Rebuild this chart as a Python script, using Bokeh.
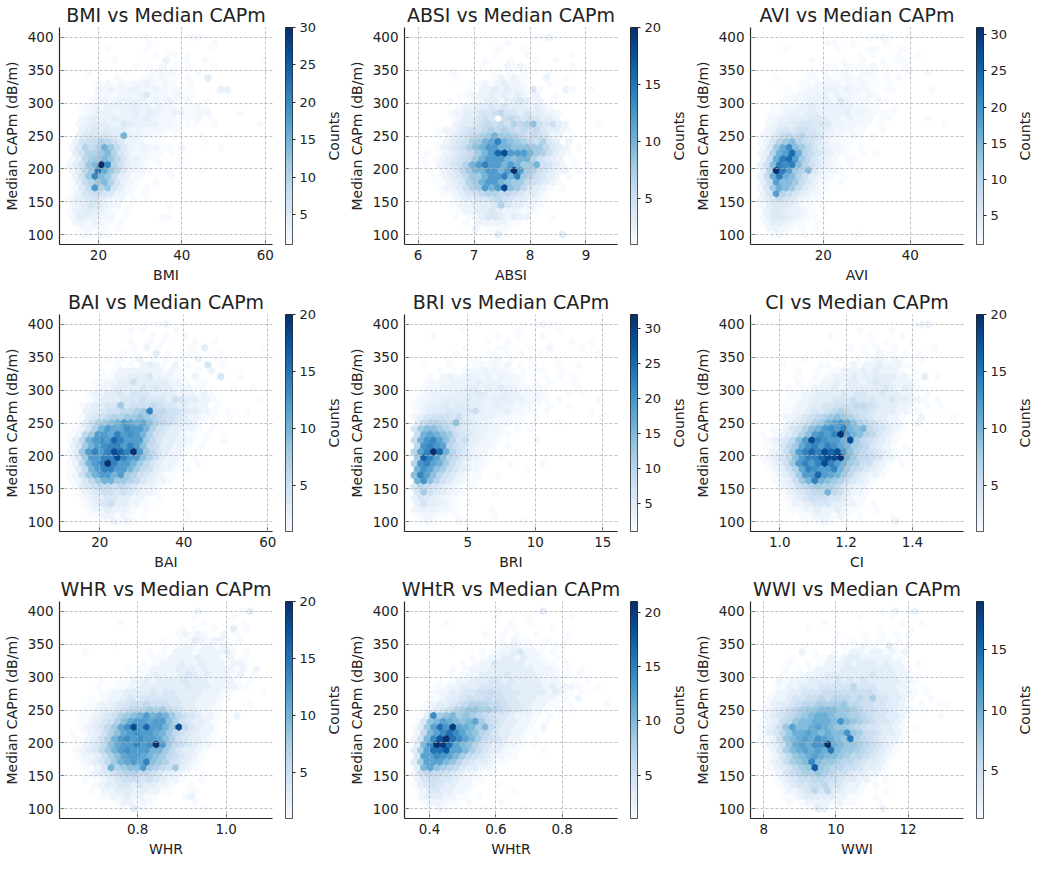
import numpy as np
from bokeh.plotting import figure
from bokeh.models import (ColumnDataSource, LinearColorMapper, Range1d, FixedTicker,
                          NumeralTickFormatter)
from bokeh.transform import transform
from bokeh.layouts import row, column
from bokeh.embed import file_html
from bokeh.resources import INLINE

# ------------------------------------------------------------------ data
Y_MIN, Y_MAX = 100.0, 400.0          # Median CAPm extent (dB/m)
Y_TICKS = [100, 150, 200, 250, 300, 350, 400]
NX, NY = 30, 17                      # hexbin gridsize

# x extent of each index, x tick values, colorbar ticks
BMI_X, BMI_TICKS, BMI_CB = (13.0, 59.4), [20, 40, 60], [5, 10, 15, 20, 25, 30]
ABSI_X, ABSI_TICKS, ABSI_CB = (5.93, 9.39), [6, 7, 8, 9], [5, 10, 15, 20]
AVI_X, AVI_TICKS, AVI_CB = (5.5, 50.0), [20, 40], [5, 10, 15, 20, 25, 30]
BAI_X, BAI_TICKS, BAI_CB = (12.7, 58.8), [20, 40, 60], [5, 10, 15, 20]
BRI_X, BRI_TICKS, BRI_CB = (1.02, 15.37), [5, 10, 15], [5, 10, 15, 20, 25, 30]
CI_X, CI_TICKS, CI_CB = (0.941, 1.525), [1.0, 1.2, 1.4], [5, 10, 15, 20]
WHR_X, WHR_TICKS, WHR_CB = (0.6454, 1.0826), [0.8, 1.0], [5, 10, 15, 20]
WHTR_X, WHTR_TICKS, WHTR_CB = (0.3537, 0.9375), [0.4, 0.6, 0.8], [5, 10, 15, 20]
WWI_X, WWI_TICKS, WWI_CB = (7.90, 13.27), [8, 10, 12], [5, 10, 15]

# hex counts, one string per hex row from y=400 downwards ("offset:counts",
# '.' = empty, 1-9, a=10 ... w=32)
BMI_ROWS = [
    "12:1......11", "12:1.........1", "6:1.....1.........1", "13:1.11.1",
    "7:1.......3..1..1........1", "10:1.1.2.1.1...1", "3:1.....1...1212...1",
    "7:1...121211.1..4", "4:1121212232121..1", "4:2232233223212.1....33",
    "4:1221222352221211", "3:1232333332323212..1", "2:12323333433232211121",
    "2:12333233434322331122....1", "2:2343343333432221112.1",
    "1:2344433543333221.11..1......1", "2:3454544323222111",
    "1:3565654f332211.1...1...1", "1:3678a975332111......1",
    "0:25a8afc853232211.2.....1", "1:47aacea6422211.1", "0:249bcec9633211...1",
    "0:247ceuka74321.1..1", "0:249cmgc953221..1....1", "1:37ckec84311....1",
    "0:148acea6321..1", "1:258iac6421.1", "0:1367865321.1", "0:134564322.1.1",
    "0:23465322.1.....1", "0:13454321.1", "0:2443322.1.....11", "1:232321.1",
    "1:12211.1", "2:12121",
]
ABSI_ROWS = [
    "19:112", "9:1....1", "13:1...1", "12:1....1......1", "11:1...1...1..1",
    "10:1...2121......1", "6:1.....11.1.1...1", "6:1.....121211..2..1",
    "9:112123221...1", "8:1.2232322141...21..1", "7:1122232323212..1",
    "5:1..122332334322.1", "7:122334343332321", "5:122334456443433221",
    "6:1233454.565454332", "6:233456565767954532....1", "4:122345567676565643321",
    "3:1.2345678a8876565422.1", "4:1234578abea98765743.2..1",
    "3:1234579accaa999886432.1", "2:1.1234568acgiccca875321",
    "1:1.1234568accca9aa75432.1", "2:1.23457aceccaca88a5432.1.1",
    "2:1.23468aaccackc8754322.1.1", "3:11234688acceae875432.1",
    "3:1123478acca988654321", "4:1223578caci9864321.1", "4:11234567766543321",
    "6:123344565433221", "5:112233347433221", "7:1223343222111",
    "6:1.1234432322...1", "8:1.2222211", "9:2.1111", "13:31........3",
]
AVI_ROWS = [
    "17:1121..1", "10:11..1....1", "4:1.......1....11...1", "15:1.1...1..1",
    "8:1....1..1..1.111", "10:11.21112.1..1", "8:1.1.121.121.1..1..1",
    "2:1....11.21121211.1.1", "6:1112222121211.1", "4:1.122233232221.11.....1",
    "4:112223323222121", "3:11223333253222121", "2:11223343333332211..1",
    "1:11233344333342322111", "1:12334445543323222.11.....1",
    "1:2344566565332221.1.........1", "1:2356577654322211..1",
    "0:235898a775322121.1", "0:136acea87532211", "0:25cgkec9643221.1",
    "0:24agioga864321..1.1", "0:38gmoic96432.11", "0:37emkmea75321.1",
    "0:4avmicae53221..1", "0:38gmgea74321.1", "0:48ieec85321.1", "0:26cgec85321",
    "0:36ia864321", "0:2468653211", "0:24554321.1", "1:35543321.1", "0:245543211",
    "1:2443211.1", "1:2321.1.1", "2:121..1..1....1",
]
BAI_ROWS = [
    "12:1.12", "9:1.1....1", "13:1.1..1", "9:1..1.1....1..1",
    "10:1.2.1....1.3........1", "8:1.1..3.1.111...1", "6:1.1.12.1.1.1..2..11",
    "7:1.1.2321.2.1..4.1", "5:1.12222222121..1.2", "5:1122333422211.2...4..1",
    "4:112233533333221.11", "4:12233334343322211....1..1", "3:12233434443333222121",
    "3:12333444544435433221......1", "2:12334484555654433222.1",
    "2:2334556678e6655433221.1..1", "2:134567788987655432211..1",
    "1:135789acbab976543321.1", "1:1247acbbdcca75433221.1",
    "0:1268ccbecdca75433211.1", "0:136acdcgeccc86433221.1..1",
    "0:248acdeecec96533221.1", "0:138ceceigekc8643221.1", "0:248cceeiecc9753221.1",
    "0:126acekecca8643221..1", "0:136aceecca8653221.1", "0:1258accac87543211",
    "0:12468aa887643221", "1:13456656543221", "1:1234554543221..1",
    "2:12334433221.1", "2:12345332211", "3:12232221.1.....1", "3:1122121.1......1",
    "6:12121",
]
BRI_ROWS = [
    "10:1......1.121", "7:1........1.....1", "3:1.........1..1...1",
    "11:1..1.........1..1", "8:1....11...1..2....1", "6:1....11.1.1..1........1",
    "5:1...11.12.1..1...1", "1:1...1...121212.1.1...1..1", "4:1.1.22232221.1.11..1",
    "2:1.2322332323221.1.1.1.1", "2:1222333343332221.1.1...1",
    "1:12233334434353322121....1", "1:12333344454334332221...1.1",
    "0:123344445443444332221.1.....1", "0:12344545544334332221.1..1",
    "0:1345565568433342211.1......1", "0:246777685433322211.1.........1",
    "0:48aa98e6543322211.1...1", "0:6ceeca865433221.1.1", "0:8gigec865432211",
    "0:8gkmiea6843221.....2", "0:akmkia8643221.1", "0:aimwpga753221...1",
    "0:cqmiea854321.1", "0:akmigc853221...1....1", "0:gkiec864321......1",
    "0:emiea753211..1", "0:gkea753211", "0:6a865321.1", "0:6c754321....1",
    "0:3654321", "0:3644321.1", "0:2333221.....1", "0:12211.1.....1",
    "1:121...21........1",
]
CI_ROWS = [
    "24:122", "15:1....1", "11:1.....1....1", "17:1.1...1", "14:1.1.1..1.....1",
    "10:1.....1.211.1.1", "7:1....1..1.122121..1", "3:1.....11..12122322211",
    "6:1..1.112223232221.1", "5:1..1.12223233333221.3.1", "6:1.11223233234332221",
    "4:1.11222323333334323211", "5:11223333434433433221.1",
    "4:1122333444544433433221.1", "4:112233445556654333221.1.1",
    "3:1122344567655543332211", "3:12234567898765433221..2....1",
    "3:1234578abcb976543221.2", "2:1124579acdcea9a654321", "0:1.123579cdcekca9764321",
    "1:123469ciedccai8654321", "0:112468bdecedba8764321.1", "1:12358cegeigic97654321.1",
    "0:123469ceegiika86654221", "1:12358ceceieca8755321.1", "1:12357bedccea8654321",
    "2:12358ccgcba8643221", "2:12358aea98754321", "3:123567877643221",
    "3:1234566a653221", "4:1234555443211", "4:122344433221.1", "5:11223223211..1",
    "6:11222121.1....1", "7:1.121.1.......2",
]
WHR_ROWS = [
    "20:2......13", "19:1.....1", "8:1............1.....1", "17:1.1..1..3.1",
    "17:12121..2.1", "14:1..11321221.1", "7:1.......1.122122121",
    "2:1.........1.1.2221222231.1", "13:1112222322212.1", "11:1.122232232221221",
    "9:1.11222233323222212.2", "9:111232223432322212.1", "5:1..1122323333433322221.1",
    "4:1..112233333334333222211", "5:112233334344333322211....1",
    "3:1.12234344444433322211", "3:112234455655544332221....1",
    "2:1123345667878654332211", "2:112345789acaba86543221..2",
    "1:11234579bccbcc97543321.1", "2:123468bdicgcca8i643221",
    "0:1.123579bcdccba86543221", "1:112357acdcdccb97543321.1",
    "1:123469bccecdkc86543221", "1:123468acdcccaa8643321", "1:1223579bccba98654321",
    "2:123468abcbe98754321", "2:1124a7899c87658321", "3:1234567766543321..1",
    "2:1.12345554543221..1", "4:1233443433221..1", "3:1.22333232211..11",
    "5:112232211....12", "7:122121......1", "8:1.311........1",
]
WHTR_ROWS = [
    "13:1......3", "12:1....1......1", "5:1.........1..1", "14:11.....1",
    "11:1..1.1..1....1", "13:1.211..1..1", "6:1......122211.1.11", "10:1.12234221.1",
    "9:1.1223323221.1", "7:1.1224333322211.1", "6:1.122233333332221.1.1",
    "5:1.12233334333322211.1", "4:1.122333443433332221.1.1",
    "3:11223334444433333232221..1", "3:1223344556544433332321.1",
    "2:1123345556554433322211.2", "2:123345677766544332211.1.....1",
    "1:12345789988765443221.1.1", "1:13e89a8987654432221.1", "0:149acba9ac865433221.1",
    "0:138cgdkcba8a6433221.2", "0:26acegeca9764332211", "0:25aeilgeca86543221.1",
    "0:3aelkgca975433221.1", "0:38cggicca86433211...1", "0:4ccedca865432211",
    "0:38ccca975433211", "0:3ac9876433221", "0:25666543221.1", "0:24554432211",
    "0:1345433221...1", "0:124433221......1", "1:23332211.1", "1:122211.1....1",
    "2:1.21.....1.....1",
]
WWI_ROWS = [
    "19:1.2.12", "15:1....1", "10:1...........1..1", "7:1..........1....1",
    "12:1...1..1.1.1", "11:1..1.1.11.1", "7:1.....1.1211.31.1", "6:2.1..1.1221221212",
    "5:1...11212332222211", "4:1..1.12223233323221.1", "4:1.1.1222233333333221",
    "3:1.11222333333343332211", "3:2122233334343433333221",
    "2:1122333444446444333221.1", "2:12233444555555554333221.1",
    "1:12234455656665657443321..1", "1:12334566777786655443321.1..11",
    "0:123456788999887655443221.1", "1:23456789aa9887765443321....1",
    "0:12356899aaa9c9876544321", "0:12358b99aba988765443321.1",
    "0:13468aaba9a99c875543321", "0:112589abacba98e76543221",
    "0:12358abaccja9887654321", "1:12479ababae9887654321", "1:124689aba99876654321",
    "1:1235789d988766543321", "1:1234678g87665543321", "2:124567787655433221",
    "2:1234556655433221.1", "3:12344556443221.1", "3:1223464633221...1",
    "4:112333332211..1", "4:1.122221211...1", "8:132.1......2",
]

PANELS = [
    ("BMI", BMI_X, BMI_TICKS, BMI_CB, BMI_ROWS, None),
    ("ABSI", ABSI_X, ABSI_TICKS, ABSI_CB, ABSI_ROWS, None),
    ("AVI", AVI_X, AVI_TICKS, AVI_CB, AVI_ROWS, None),
    ("BAI", BAI_X, BAI_TICKS, BAI_CB, BAI_ROWS, None),
    ("BRI", BRI_X, BRI_TICKS, BRI_CB, BRI_ROWS, None),
    ("CI", CI_X, CI_TICKS, CI_CB, CI_ROWS, "0.0"),
    ("WHR", WHR_X, WHR_TICKS, WHR_CB, WHR_ROWS, "0.0"),
    ("WHtR", WHTR_X, WHTR_TICKS, WHTR_CB, WHTR_ROWS, "0.0"),
    ("WWI", WWI_X, WWI_TICKS, WWI_CB, WWI_ROWS, None),
]

# ------------------------------------------------------------------ style
FONT = "DejaVu Sans"
TXT = "#222222"
SPINE = "#262626"
BLUES = ["#f7fbff", "#deebf7", "#c6dbef", "#9ecae1", "#6baed6",
         "#4292c6", "#2171b5", "#08519c", "#08306b"]


def ramp(anchors, n=256):
    rgb = np.array([[int(c[i:i + 2], 16) for i in (1, 3, 5)] for c in anchors], float)
    pos = np.linspace(0, 1, len(anchors))
    out = []
    for t in np.linspace(0, 1, n):
        out.append("#%02x%02x%02x" % tuple(int(round(np.interp(t, pos, rgb[:, j]))) for j in range(3)))
    return out


PALETTE = ramp(BLUES)
ALPH = "0123456789abcdefghijklmnopqrstuvwxyz"


def hex_cells(rows, xr):
    x0, x1 = xr
    sx = (x1 - x0) / NX
    sy = (Y_MAX - Y_MIN) / NY
    dx = np.array([0.5, 0.5, 0.0, -0.5, -0.5, 0.0]) * sx
    dy = np.array([-0.5, 0.5, 1.0, 0.5, -0.5, -1.0]) * sy / 3.0
    xs, ys, cs = [], [], []
    for k, r in enumerate(rows):
        off, s = r.split(":")
        off = int(off)
        cy = Y_MAX - k * sy / 2.0
        shift = 0.5 * (k % 2)
        for j, ch in enumerate(s):
            if ch == ".":
                continue
            cx = x0 + (off + j + shift) * sx
            xs.append(list(cx + dx))
            ys.append(list(cy + dy))
            cs.append(ALPH.index(ch))
    return xs, ys, cs


MAIN_W, H = 276, 287
TOP, BOTTOM, LEFT, RIGHT = 26, 43, 56, 4
CB_W = 43


def style_axis(ax, label_size="13.5px"):
    ax.axis_line_color = SPINE
    ax.axis_line_width = 1.2
    ax.major_tick_line_color = SPINE
    ax.major_tick_line_width = 1.0
    ax.minor_tick_line_color = None
    ax.major_label_text_font = FONT
    ax.major_label_text_font_size = label_size
    ax.major_label_text_color = TXT
    ax.axis_label_text_font = FONT
    ax.axis_label_text_font_size = "14px"
    ax.axis_label_text_font_style = "normal"
    ax.axis_label_text_color = TXT


def make_panel(spec, lab_w):
    name, xr, xticks, cbticks, rows, fmt = spec
    xs, ys, cs = hex_cells(rows, xr)
    hi = max(cs)
    mapper = LinearColorMapper(palette=PALETTE, low=1, high=hi)
    span = xr[1] - xr[0]
    p = figure(width=MAIN_W, height=H,
               x_range=Range1d(xr[0] - 0.05 * span, xr[1] + 0.05 * span),
               y_range=Range1d(Y_MIN - 15, Y_MAX + 15),
               min_border_left=LEFT, min_border_right=RIGHT,
               min_border_top=TOP, min_border_bottom=BOTTOM,
               toolbar_location=None, output_backend="svg")
    src = ColumnDataSource(dict(xs=xs, ys=ys, c=cs))
    p.patches("xs", "ys", source=src, fill_color=transform("c", mapper),
              line_color=transform("c", mapper), line_width=0.6)
    p.outline_line_color = None
    p.title.text = f"{name} vs Median CAPm"
    p.title.align = "center"
    p.title.text_font = FONT
    p.title.text_font_size = "19px"
    p.title.text_font_style = "normal"
    p.title.text_color = TXT
    p.title.standoff = 3
    p.xaxis.ticker = FixedTicker(ticks=xticks)
    p.yaxis.ticker = FixedTicker(ticks=Y_TICKS)
    if fmt:
        p.xaxis.formatter = NumeralTickFormatter(format=fmt)
    p.xaxis.axis_label = name
    p.yaxis.axis_label = "Median CAPm (dB/m)"
    for ax in (p.xaxis[0], p.yaxis[0]):
        style_axis(ax)
        ax.major_tick_in = 4
        ax.major_tick_out = 0
    p.xaxis.major_label_standoff = 5
    p.xaxis.axis_label_standoff = 4
    p.yaxis.major_label_standoff = 6
    p.yaxis.axis_label_standoff = 5
    p.xgrid.ticker = FixedTicker(ticks=xticks)
    p.ygrid.ticker = FixedTicker(ticks=Y_TICKS)
    for g in (p.xgrid[0], p.ygrid[0]):
        g.grid_line_color = "#b0b0b0"
        g.grid_line_dash = "3 2"
        g.grid_line_width = 0.8
        g.level = "annotation"

    # colorbar as its own small figure
    cb = figure(width=CB_W, height=H, x_range=Range1d(0, 1), y_range=Range1d(1, hi),
                x_axis_location=None, y_axis_location="right",
                min_border_left=9, min_border_right=CB_W - 17,
                min_border_top=TOP, min_border_bottom=BOTTOM,
                toolbar_location=None, output_backend="svg")
    cb.image(image=[np.linspace(1, hi, 256).reshape(-1, 1)], x=0, y=1, dw=1,
             dh=hi - 1, color_mapper=mapper)
    cb.xgrid.visible = False
    cb.ygrid.visible = False
    cb.outline_line_color = SPINE
    cb.outline_line_width = 1.0
    cb.yaxis.ticker = FixedTicker(ticks=cbticks)
    style_axis(cb.yaxis[0], "13px")
    cb.yaxis.axis_line_color = None
    cb.yaxis.major_tick_in = 0
    cb.yaxis.major_tick_out = 3
    cb.yaxis.major_label_standoff = 4

    # "Counts" label (reads bottom-to-top, as a left-axis label)
    lab = figure(width=lab_w, height=H, x_range=Range1d(0, 1), y_range=Range1d(0, 1),
                 x_axis_location=None, y_axis_location="left",
                 min_border_left=lab_w - 1, min_border_right=0,
                 min_border_top=TOP, min_border_bottom=BOTTOM,
                 toolbar_location=None, output_backend="svg")
    lab.outline_line_color = None
    lab.xgrid.visible = False
    lab.ygrid.visible = False
    lab.yaxis.ticker = FixedTicker(ticks=[])
    lab.yaxis.axis_line_color = None
    lab.yaxis.major_tick_line_color = None
    lab.yaxis.minor_tick_line_color = None
    lab.yaxis.major_tick_out = 0
    lab.yaxis.major_tick_in = 0
    lab.yaxis.major_label_standoff = 0
    lab.yaxis.axis_label = "Counts"
    lab.yaxis.axis_label_standoff = lab_w - 23
    lab.yaxis.axis_label_text_font = FONT
    lab.yaxis.axis_label_text_font_size = "14px"
    lab.yaxis.axis_label_text_font_style = "normal"
    lab.yaxis.axis_label_text_color = TXT
    return p, cb, lab


LAB_W = [26, 27, 25]
rows_out = []
for r in range(3):
    items = []
    for c in range(3):
        items += list(make_panel(PANELS[3 * r + c], LAB_W[c]))
    rows_out.append(row(*items))
layout = column(*rows_out)

open("out.html", "w").write(file_html(layout, INLINE))
